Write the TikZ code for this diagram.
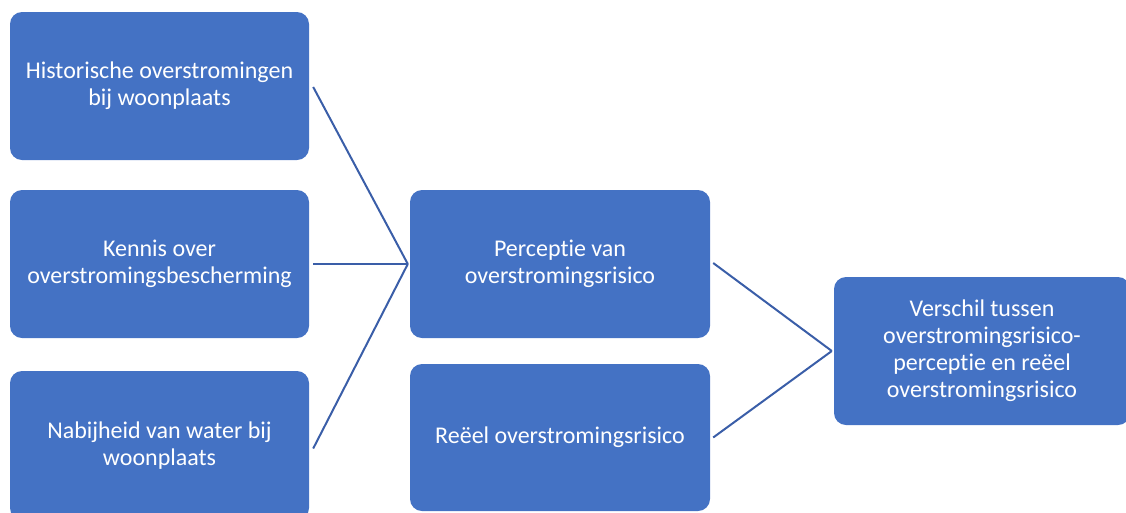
\documentclass[tikz,border=0pt]{standalone}
\usepackage{fontspec}
\setmainfont[Ligatures={NoCommon}]{Carlito}
\definecolor{boxblue}{RGB}{68,114,196}
\definecolor{lineblue}{RGB}{58,94,168}
\begin{document}
\begin{tikzpicture}[x=1pt,y=-1pt,
  box/.style={fill=boxblue, rounded corners=12pt, text=white, align=center,
    font=\fontsize{24}{27}\selectfont, inner sep=0pt},
  conn/.style={draw=lineblue, line width=2pt}]
\useasboundingbox (0,0) rectangle (1126,512);
\clip (0,0) rectangle (1126,512);
\node[box, minimum width=299pt, minimum height=148pt] (b1) at (159.5,86) {Historische overstromingen\\bij woonplaats};
\node[box, minimum width=299pt, minimum height=148pt] (b2) at (159.5,264) {Kennis over\\overstromingsbescherming};
\node[box, minimum width=299pt, minimum height=149pt] (b3) at (159.5,445.5) {Nabijheid van water bij\\woonplaats};
\node[box, minimum width=300pt, minimum height=148pt] (b4) at (560,264) {Perceptie van\\overstromingsrisico};
\node[box, minimum width=300pt, minimum height=147pt] (b5) at (560,437.5) {Reëel overstromingsrisico};
\node[box, minimum width=296pt, minimum height=148pt] (b6) at (982,351) {Verschil tussen\\overstromingsrisico-\\perceptie en reëel\\overstromingsrisico};
\coordinate (j1) at ([xshift=-2pt]b4.west);
\coordinate (j2) at ([xshift=-2pt]b6.west);
\draw[conn] ([xshift=4pt,yshift=-1pt]b1.east) -- (j1);
\draw[conn] ([xshift=4pt]b2.east) -- (j1);
\draw[conn] ([xshift=4pt,yshift=-3pt]b3.east) -- (j1);
\draw[conn] ([xshift=3pt,yshift=1pt]b4.east) -- (j2);
\draw[conn] ([xshift=3pt]b5.east) -- (j2);
\end{tikzpicture}
\end{document}
